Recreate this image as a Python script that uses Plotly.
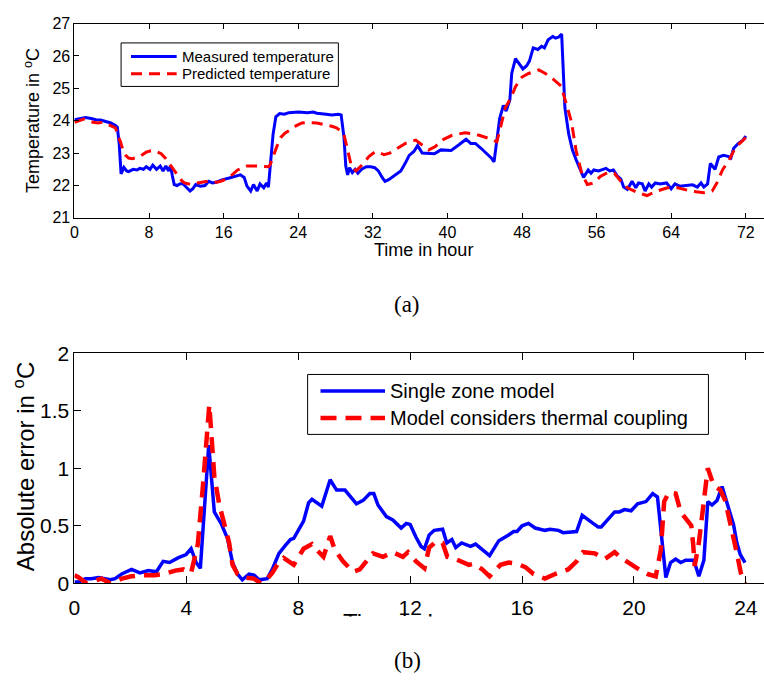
import plotly.graph_objects as go

# ---------------- (a) measured vs predicted temperature over 72 h ----------------
meas_hours = [0, 0.5, 1.2, 1.8, 2.3, 2.8, 3.3, 3.9, 4.4, 4.6, 4.8, 5.0, 5.3, 5.6, 5.8, 6.3, 6.7, 7.0, 7.4, 7.7,
              8.1, 8.4, 8.8, 9.2, 9.5, 9.8, 10.1, 10.3, 10.5, 10.7, 11.0, 11.3, 11.6, 12.1, 12.4, 12.7, 13.0,
              13.5, 14.0, 14.4, 14.8, 15.2, 15.9, 16.6, 17.3, 17.8, 18.2, 18.5, 18.9, 19.2, 19.6, 19.9, 20.3,
              20.6, 20.8, 21.0, 21.3, 21.6, 22.0, 22.5, 23.0, 24.0, 25.0, 25.6, 26.0, 27.0, 27.6, 28.3, 28.6,
              28.9, 29.1, 29.3, 29.5, 29.8, 30.1, 30.4, 30.8, 31.3, 31.8, 32.2, 32.6, 33.0, 33.3, 33.7, 34.2,
              35.0, 35.5, 35.9, 36.4, 36.8, 37.3, 37.8, 38.6, 39.3, 40.4, 41.2, 42.0, 42.5, 43.0, 43.6, 44.2,
              44.7, 45.0, 45.3, 45.6, 46.0, 46.3, 46.7, 46.9, 47.3, 47.7, 48.1, 48.5, 48.8, 49.2, 49.7, 50.1,
              50.4, 50.8, 51.3, 51.6, 51.9, 52.25, 52.45, 52.6, 53.0, 53.4, 53.8, 54.2, 54.6, 55.1, 55.4, 55.7,
              56.2, 56.7, 57.0, 57.4, 57.8, 58.2, 58.6, 58.9, 59.3, 59.8, 60.2, 60.5, 60.9, 61.2, 61.6, 61.9,
              62.3, 62.8, 63.5, 64.0, 64.4, 64.9, 65.6, 66.3, 66.8, 67.2, 67.5, 67.9, 68.2, 68.5, 68.7, 69.1,
              69.6, 70.1, 70.4, 70.7, 71.2, 71.7, 72.0]
meas_temp = [24.03, 24.05, 24.1, 24.07, 24.03, 24.02, 23.97, 23.93, 23.85, 23.8, 23.28, 22.36, 22.56, 22.45,
             22.43, 22.5, 22.48, 22.53, 22.5, 22.58, 22.5, 22.63, 22.5, 22.6, 22.45, 22.6, 22.45, 22.62, 22.3,
             22.03, 22.0, 22.05, 22.06, 21.93, 21.83, 21.9, 22.03, 21.98, 22.0, 22.13, 22.08, 22.1, 22.18,
             22.23, 22.28, 22.33, 22.25, 21.98, 21.83, 22.03, 21.83, 22.05, 21.93, 22.08, 21.95, 22.68, 23.58,
             24.12, 24.22, 24.2, 24.25, 24.27, 24.25, 24.27, 24.23, 24.2, 24.18, 24.2, 24.18, 23.5, 22.6,
             22.33, 22.55, 22.4, 22.5, 22.38, 22.5, 22.58, 22.58, 22.55, 22.45, 22.25, 22.13, 22.18, 22.28,
             22.45, 22.7, 22.93, 23.05, 23.23, 23.0, 23.0, 22.98, 23.1, 23.08, 23.25, 23.43, 23.3, 23.3,
             23.15, 22.98, 22.85, 22.73, 23.38, 24.07, 24.47, 24.3, 24.65, 25.47, 25.92, 25.75, 25.6, 25.7,
             25.85, 26.25, 26.2, 26.3, 26.25, 26.5, 26.6, 26.55, 26.58, 26.68, 25.5, 24.4, 23.6, 23.1, 22.8,
             22.5, 22.25, 22.48, 22.38, 22.48, 22.45, 22.5, 22.53, 22.45, 22.48, 22.3, 22.2, 21.95, 21.88,
             22.13, 21.93, 22.08, 22.05, 21.83, 22.05, 21.95, 22.08, 22.05, 22.08, 21.9, 22.05, 21.98, 22.0,
             22.02, 21.95, 22.08, 21.95, 22.05, 22.68, 22.55, 22.5, 22.88, 22.93, 22.9, 22.85, 23.15, 23.3,
             23.4, 23.53]

pred_hours = [0, 0.5, 1.0, 1.5, 2.0, 2.5, 3.0, 3.6, 4.2, 4.4, 4.7, 4.9, 5.2, 5.5, 5.8, 6.2, 6.9, 7.3, 7.7, 8.2,
              8.6, 9.3, 9.8, 10.1, 10.4, 10.8, 11.1, 11.5, 11.8, 12.5, 13.2, 14.3, 15.3, 15.9, 16.4, 17.0,
              17.5, 18.0, 18.5, 19.6, 20.8, 21.0, 21.4, 21.7, 22.1, 22.6, 23.2, 23.8, 24.4, 25.0, 26.0, 26.5,
              27.1, 27.6, 28.1, 28.5, 28.9, 29.3, 29.7, 30.2, 30.9, 31.6, 32.2, 32.5, 33.2, 33.8, 34.4, 35.5,
              36.6, 37.3, 38.0, 38.7, 39.4, 40.5, 41.2, 41.9, 42.6, 43.4, 44.5, 45.3, 45.7, 46.2, 46.8, 47.3,
              48.0, 48.7, 49.3, 49.8, 50.5, 51.4, 52.2, 52.6, 53.0, 53.3, 53.8, 54.4, 55.0, 55.7, 56.4, 57.2,
              57.9, 58.6, 59.3, 60.4, 61.4, 62.5, 63.6, 64.7, 66.1, 67.5, 68.4, 68.9, 69.5, 70.2, 70.9, 71.6,
              72.0]
pred_temp = [23.95, 24.0, 24.05, 24.0, 23.95, 23.93, 23.95, 23.88, 23.8, 23.78, 23.5, 23.38, 23.1, 22.93,
             22.85, 22.83, 22.88, 22.95, 23.03, 23.07, 23.08, 22.98, 22.83, 22.7, 22.58, 22.4, 22.28, 22.15,
             22.08, 22.03, 22.08, 22.13, 22.1, 22.15, 22.23, 22.35, 22.48, 22.55, 22.6, 22.6, 22.58, 22.65,
             22.98, 23.2, 23.48, 23.62, 23.73, 23.85, 23.93, 23.95, 23.93, 23.9, 23.88, 23.83, 23.78, 23.7,
             23.58, 23.1, 22.6, 22.45, 22.65, 22.9, 23.03, 23.05, 22.95, 23.0, 23.1, 23.3, 23.4, 23.25, 23.1,
             23.2, 23.4, 23.55, 23.6, 23.63, 23.6, 23.55, 23.45, 23.35, 23.8, 24.4, 24.7, 25.05, 25.35,
             25.46, 25.52, 25.57, 25.46, 25.27, 25.07, 24.67, 24.3, 23.97, 23.08, 22.38, 22.03, 22.08, 22.28,
             22.4, 22.38, 22.13, 21.93, 21.78, 21.69, 21.83, 21.93, 21.93, 21.83, 21.78, 21.83, 22.08, 22.48,
             22.78, 23.18, 23.38, 23.48]

# ---------------- (b) absolute prediction error over 24 h ----------------
single_hours = [0, 0.15, 0.39, 0.6, 0.86, 1.1, 1.28, 1.45, 1.69, 2.04, 2.34, 2.64, 2.93, 3.17, 3.4, 3.7, 3.99,
                4.17, 4.35, 4.5, 4.8, 5.0, 5.24, 5.47, 5.65, 5.83, 6.0, 6.24, 6.42, 6.6, 6.89, 7.07, 7.31,
                7.54, 7.72, 7.84, 8.01, 8.19, 8.37, 8.49, 8.84, 9.14, 9.37, 9.67, 10.08, 10.32, 10.56, 10.7,
                10.85, 11.15, 11.38, 11.68, 11.86, 12.0, 12.21, 12.39, 12.51, 12.68, 12.86, 13.16, 13.31,
                13.49, 13.63, 13.84, 14.16, 14.34, 14.84, 15.17, 15.52, 15.7, 15.82, 16.0, 16.23, 16.47, 16.82,
                17.0, 17.3, 17.47, 17.95, 18.15, 18.54, 18.72, 18.83, 19.07, 19.31, 19.48, 19.66, 19.9, 20.13,
                20.43, 20.67, 20.84, 21.14, 21.31, 21.49, 21.67, 21.85, 22.14, 22.32, 22.5, 22.64, 22.79,
                22.97, 23.15, 23.38, 23.56, 23.68, 23.8, 23.97]
single_err = [0.01, 0.01, 0.04, 0.04, 0.05, 0.04, 0.03, 0.04, 0.08, 0.12, 0.09, 0.11, 0.1, 0.19, 0.18, 0.22,
              0.25, 0.3, 0.18, 0.13, 1.2, 0.62, 0.52, 0.39, 0.18, 0.08, 0.03, 0.08, 0.07, 0.03, 0.04, 0.12,
              0.26, 0.33, 0.38, 0.39, 0.47, 0.54, 0.7, 0.73, 0.67, 0.9, 0.81, 0.81, 0.69, 0.72, 0.78, 0.78,
              0.68, 0.58, 0.55, 0.48, 0.52, 0.51, 0.4, 0.32, 0.3, 0.42, 0.46, 0.47, 0.35, 0.38, 0.31, 0.35,
              0.32, 0.34, 0.24, 0.37, 0.42, 0.45, 0.45, 0.5, 0.52, 0.48, 0.46, 0.47, 0.46, 0.44, 0.45, 0.59,
              0.52, 0.49, 0.49, 0.56, 0.62, 0.62, 0.64, 0.63, 0.69, 0.71, 0.78, 0.75, 0.05, 0.18, 0.21, 0.18,
              0.2, 0.2, 0.06, 0.2, 0.71, 0.68, 0.72, 0.84, 0.66, 0.51, 0.35, 0.25, 0.18]

coupled_hours = [0, 0.15, 0.43, 0.7, 0.97, 1.28, 1.69, 2.04, 2.4, 2.87, 3.2, 3.6, 3.9, 4.17, 4.41, 4.59, 4.82,
                 5.0, 5.18, 5.35, 5.53, 5.65, 5.83, 6.06, 6.42, 6.66, 6.89, 7.07, 7.25, 7.48, 7.84, 8.19, 8.49,
                 8.66, 8.9, 9.14, 9.31, 9.6, 9.96, 10.2, 10.44, 10.67, 11.03, 11.38, 11.74, 11.92, 12.21,
                 12.51, 12.68, 12.92, 13.16, 13.33, 13.63, 14.1, 14.28, 14.58, 14.84, 15.23, 15.52, 15.82,
                 16.12, 16.41, 16.82, 17.18, 17.65, 17.95, 18.18, 18.6, 18.95, 19.31, 19.54, 19.9, 20.25,
                 20.49, 20.78, 20.96, 21.08, 21.25, 21.49, 21.67, 21.91, 22.05, 22.12, 22.17, 22.32, 22.5,
                 22.64, 22.85, 23.09, 23.26, 23.5, 23.68, 23.82, 23.97]
coupled_err = [0.07, 0.05, 0.0, 0.02, 0.04, 0.0, 0.04, 0.06, 0.07, 0.07, 0.08, 0.11, 0.12, 0.09, 0.34, 0.84,
               1.55, 0.93, 0.68, 0.52, 0.35, 0.16, 0.08, 0.05, 0.04, 0.0, 0.04, 0.09, 0.16, 0.22, 0.16, 0.3,
               0.34, 0.29, 0.23, 0.41, 0.29, 0.19, 0.1, 0.12, 0.19, 0.26, 0.23, 0.27, 0.23, 0.27, 0.19, 0.13,
               0.31, 0.36, 0.35, 0.23, 0.21, 0.16, 0.17, 0.12, 0.06, 0.16, 0.18, 0.17, 0.14, 0.08, 0.04, 0.08,
               0.12, 0.19, 0.27, 0.26, 0.21, 0.27, 0.22, 0.16, 0.11, 0.08, 0.06, 0.29, 0.71, 0.79, 0.78, 0.62,
               0.55, 0.5, 0.33, 0.15, 0.35, 0.71, 1.0, 0.85, 0.81, 0.72, 0.48, 0.26, 0.09, 0.0]

temp_ticks = [21, 22, 23, 24, 25, 26, 27]
hour_ticks_a = list(range(0, 73, 8))
err_ticks = [0, 0.5, 1, 1.5, 2]
err_tick_text = ["0", "0.5", "1", "1.5", "2"]
hour_ticks_b = list(range(0, 25, 4))

W, H = 764, 688
BLUE = "#0000ff"
RED = "#ff0000"
FONT = "Liberation Sans, Arial, sans-serif"
SERIF = "Liberation Serif, Times New Roman, serif"


def px(x):
    return x / W


def py(y):
    return 1 - y / H


fig = go.Figure()

fig.add_trace(go.Scatter(x=meas_hours, y=meas_temp, mode="lines",
                         line=dict(color=BLUE, width=3), xaxis="x", yaxis="y", showlegend=False))
fig.add_trace(go.Scatter(x=pred_hours, y=pred_temp, mode="lines",
                         line=dict(color=RED, width=3, dash="11px,7px"), xaxis="x", yaxis="y", showlegend=False))
fig.add_trace(go.Scatter(x=single_hours, y=single_err, mode="lines",
                         line=dict(color=BLUE, width=3.5), xaxis="x2", yaxis="y2", showlegend=False))
fig.add_trace(go.Scatter(x=coupled_hours, y=coupled_err, mode="lines",
                         line=dict(color=RED, width=4.5, dash="16px,9px"), xaxis="x2", yaxis="y2", showlegend=False))

left = 69
common_axis = dict(showline=True, linecolor="black", linewidth=1, ticks="inside", tickcolor="black",
                   showgrid=False, zeroline=False)

fig.update_layout(
    width=W, height=H, margin=dict(l=0, r=0, t=0, b=0),
    paper_bgcolor="white", plot_bgcolor="white",
    font=dict(family=FONT, color="black"),
    xaxis=dict(domain=[px(left), 1], range=[0, (W - left) / 9.398], tickvals=hour_ticks_a,
               ticklen=5, mirror="allticks", tickfont=dict(size=16), anchor="y", **common_axis),
    yaxis=dict(domain=[py(213), py(12)], range=[21, 27], tickvals=temp_ticks,
               ticklen=5, tickfont=dict(size=16), anchor="x", **common_axis),
    xaxis2=dict(domain=[px(left), 1], range=[0, (W - left) / 28.196], tickvals=hour_ticks_b,
                ticklen=7, mirror="allticks", tickfont=dict(size=21), anchor="y2",
                ticklabelstandoff=6, **common_axis),
    yaxis2=dict(domain=[py(591), py(353)], range=[0, 2], tickvals=err_ticks, ticktext=err_tick_text,
                ticklen=7, tickfont=dict(size=21), anchor="x2", **common_axis),
)

shapes = []
annotations = []

# axis titles
annotations.append(dict(text="Temperature in <sup>o</sup>C", x=px(26), y=py(112), xref="paper", yref="paper",
                        textangle=-90, showarrow=False, font=dict(size=18), xanchor="center", yanchor="middle"))
annotations.append(dict(text="Time in hour", x=px(421), y=py(246), xref="paper", yref="paper",
                        showarrow=False, font=dict(size=18), xanchor="center", yanchor="middle"))
annotations.append(dict(text="Absolute error in <sup>o</sup>C", x=px(18), y=py(470), xref="paper", yref="paper",
                        textangle=-90, showarrow=False, font=dict(size=24), xanchor="center", yanchor="middle"))
# lower x title sits under the caption strip; only its top edge shows
annotations.append(dict(text="Time in hour", x=px(407), y=py(632), xref="paper", yref="paper",
                        showarrow=False, font=dict(size=24), xanchor="center", yanchor="middle"))
annotations.append(dict(text=" ", x=px(407), y=py(625), xref="paper", yref="paper", showarrow=False,
                        width=260, height=34, bgcolor="white", borderpad=0, xanchor="center", yanchor="top"))

# panel captions
annotations.append(dict(text="(a)", x=px(404), y=py(303), xref="paper", yref="paper", showarrow=False,
                        font=dict(size=23, family=SERIF), xanchor="center", yanchor="middle"))
annotations.append(dict(text="(b)", x=px(405), y=py(671), xref="paper", yref="paper", showarrow=False,
                        font=dict(size=23, family=SERIF), xanchor="center", yanchor="middle"))


def legend_box(x0, y0, x1, y1, rows, x_line0, x_line1, x_text, size, widths, dashes):
    shapes.append(dict(type="rect", xref="paper", yref="paper", x0=px(x0), x1=px(x1), y0=py(y1), y1=py(y0),
                       line=dict(color="black", width=1), fillcolor="white", layer="above"))
    for (label, color, yy), w, d in zip(rows, widths, dashes):
        shapes.append(dict(type="line", xref="paper", yref="paper", x0=px(x_line0), x1=px(x_line1),
                           y0=py(yy), y1=py(yy), line=dict(color=color, width=w, dash=d), layer="above"))
        annotations.append(dict(text=label, x=px(x_text), y=py(yy), xref="paper", yref="paper",
                                showarrow=False, font=dict(size=size), xanchor="left", yanchor="middle"))


legend_box(116, 32, 335, 77,
           [("Measured temperature", BLUE, 46), ("Predicted temperature", RED, 64)],
           126, 172, 175, 15, [3, 3], ["solid", "11px,7px"])
legend_box(304, 375, 708, 437,
           [("Single zone model", BLUE, 392), ("Model considers thermal coupling", RED, 420)],
           317, 382, 385, 20, [3.5, 4.5], ["solid", "16px,9px"])

fig.update_layout(shapes=shapes, annotations=annotations)
fig.write_html("out.html")
